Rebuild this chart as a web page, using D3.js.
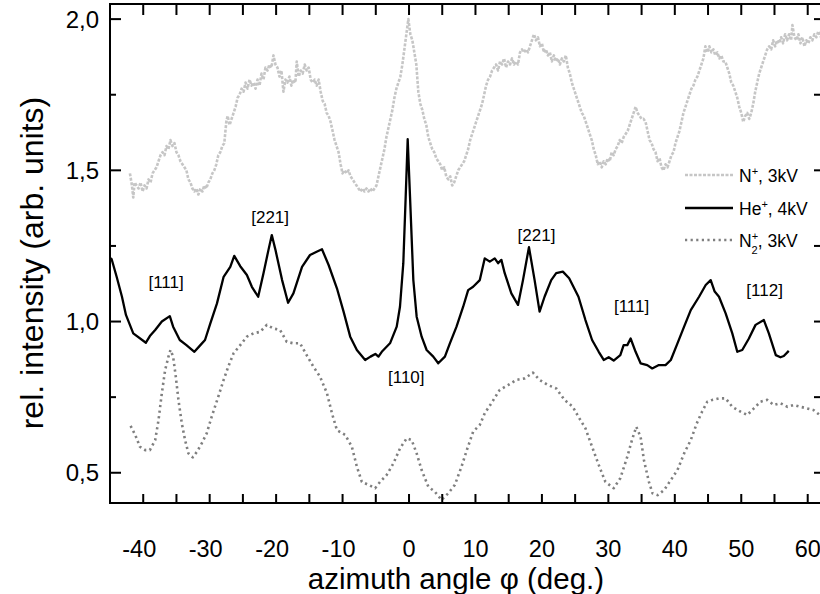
<!DOCTYPE html>
<html><head><meta charset="utf-8">
<script src="https://cdn.jsdelivr.net/npm/d3@7"></script>
<style>body{margin:0;background:#fff}svg{display:block;font-family:"Liberation Sans",Arial,sans-serif}</style>
</head><body><svg id="c" width="820" height="594"></svg>
<script>
const xTicksLabeled = [-40,-30,-20,-10,0,10,20,30,40,50,60];
const yTicksLabeled = [0.5,1.0,1.5,2.0];
const yTickText = ["0,5","1,0","1,5","2,0"];

// N+, 3kV (angle, intensity)
const nPlusData = [[-42.0,1.49],[-41.7,1.45],[-41.5,1.41],[-41.3,1.46],[-41.0,1.45],[-40.7,1.44],[-40.4,1.46],[-40.1,1.43],[-39.8,1.45],[-39.5,1.44],[-39.2,1.47],[-38.9,1.46],[-38.6,1.49],[-38.3,1.50],[-38.0,1.51],[-37.7,1.53],[-37.4,1.55],[-37.1,1.56],[-36.8,1.55],[-36.5,1.58],[-36.2,1.57],[-35.9,1.60],[-35.6,1.58],[-35.3,1.59],[-35.0,1.56],[-34.7,1.55],[-34.4,1.53],[-34.1,1.52],[-33.8,1.51],[-33.5,1.50],[-33.2,1.47],[-32.9,1.46],[-32.6,1.44],[-32.3,1.43],[-32.0,1.44],[-31.7,1.42],[-31.4,1.44],[-31.1,1.43],[-30.8,1.45],[-30.5,1.44],[-30.2,1.46],[-29.9,1.47],[-29.6,1.49],[-29.3,1.50],[-29.0,1.52],[-28.7,1.55],[-28.4,1.56],[-28.1,1.58],[-27.8,1.59],[-27.5,1.66],[-27.3,1.68],[-27.0,1.65],[-26.7,1.67],[-26.4,1.69],[-26.1,1.71],[-25.8,1.74],[-25.5,1.75],[-25.2,1.77],[-24.9,1.76],[-24.6,1.79],[-24.3,1.77],[-24.0,1.80],[-23.7,1.78],[-23.4,1.79],[-23.1,1.77],[-22.8,1.80],[-22.5,1.78],[-22.2,1.82],[-21.9,1.80],[-21.6,1.84],[-21.3,1.83],[-21.0,1.85],[-20.7,1.84],[-20.4,1.88],[-20.1,1.85],[-19.8,1.84],[-19.5,1.81],[-19.2,1.83],[-18.9,1.76],[-18.6,1.80],[-18.3,1.79],[-18.0,1.81],[-17.7,1.78],[-17.4,1.80],[-17.1,1.79],[-16.9,1.86],[-16.6,1.81],[-16.3,1.83],[-16.0,1.82],[-15.7,1.85],[-15.4,1.83],[-15.1,1.84],[-14.8,1.80],[-14.5,1.79],[-14.2,1.80],[-13.9,1.78],[-13.6,1.80],[-13.3,1.76],[-13.0,1.73],[-12.7,1.72],[-12.4,1.69],[-12.1,1.68],[-11.8,1.66],[-11.5,1.63],[-11.2,1.60],[-10.9,1.58],[-10.6,1.56],[-10.3,1.52],[-10.0,1.49],[-9.7,1.50],[-9.4,1.49],[-9.1,1.50],[-8.8,1.48],[-8.5,1.47],[-8.2,1.46],[-7.9,1.45],[-7.6,1.44],[-7.3,1.43],[-7.0,1.44],[-6.7,1.43],[-6.4,1.44],[-6.1,1.43],[-5.8,1.44],[-5.5,1.43],[-5.2,1.44],[-4.9,1.45],[-4.6,1.48],[-4.3,1.51],[-4.0,1.54],[-3.7,1.57],[-3.4,1.61],[-3.1,1.64],[-2.8,1.67],[-2.5,1.70],[-2.2,1.74],[-1.9,1.77],[-1.6,1.79],[-1.3,1.81],[-1.0,1.85],[-0.7,1.90],[-0.4,1.95],[-0.1,2.00],[0.2,1.95],[0.5,1.93],[0.8,1.89],[1.1,1.85],[1.4,1.76],[1.7,1.72],[2.0,1.70],[2.3,1.67],[2.6,1.65],[2.9,1.61],[3.2,1.59],[3.5,1.57],[3.8,1.56],[4.1,1.54],[4.4,1.53],[4.7,1.52],[5.0,1.50],[5.3,1.51],[5.6,1.48],[5.9,1.47],[6.2,1.48],[6.5,1.45],[6.8,1.46],[7.1,1.48],[7.4,1.50],[7.7,1.51],[8.0,1.52],[8.3,1.53],[8.6,1.55],[8.9,1.57],[9.2,1.60],[9.5,1.62],[9.8,1.64],[10.1,1.66],[10.4,1.68],[10.7,1.70],[11.0,1.72],[11.3,1.75],[11.6,1.78],[11.9,1.80],[12.2,1.81],[12.5,1.83],[12.8,1.84],[13.1,1.85],[13.4,1.83],[13.7,1.86],[14.0,1.85],[14.3,1.87],[14.6,1.84],[14.9,1.86],[15.2,1.85],[15.5,1.87],[15.8,1.85],[16.1,1.86],[16.4,1.85],[16.7,1.89],[17.0,1.90],[17.3,1.89],[17.6,1.90],[17.9,1.89],[18.2,1.91],[18.5,1.93],[18.8,1.95],[19.1,1.93],[19.4,1.94],[19.7,1.91],[20.0,1.92],[20.3,1.89],[20.6,1.90],[20.9,1.88],[21.2,1.89],[21.5,1.86],[21.8,1.88],[22.1,1.86],[22.4,1.87],[22.7,1.85],[23.0,1.87],[23.3,1.86],[23.6,1.88],[23.9,1.84],[24.2,1.82],[24.5,1.79],[24.8,1.77],[25.1,1.75],[25.4,1.73],[25.7,1.71],[26.0,1.69],[26.3,1.68],[26.6,1.66],[26.9,1.64],[27.2,1.62],[27.5,1.60],[27.8,1.57],[28.1,1.55],[28.4,1.52],[28.7,1.53],[29.0,1.51],[29.3,1.53],[29.6,1.52],[29.9,1.54],[30.2,1.53],[30.5,1.56],[30.8,1.55],[31.1,1.57],[31.4,1.58],[31.7,1.60],[32.0,1.59],[32.3,1.61],[32.6,1.62],[32.9,1.63],[33.2,1.65],[33.5,1.67],[33.8,1.69],[34.1,1.71],[34.4,1.69],[34.7,1.68],[35.0,1.67],[35.3,1.67],[35.6,1.66],[35.9,1.63],[36.2,1.60],[36.5,1.59],[36.8,1.57],[37.1,1.56],[37.4,1.53],[37.7,1.54],[38.0,1.51],[38.3,1.50],[38.6,1.52],[38.9,1.51],[39.2,1.53],[39.5,1.55],[39.8,1.56],[40.1,1.59],[40.4,1.61],[40.7,1.63],[41.0,1.66],[41.3,1.69],[41.6,1.71],[41.9,1.73],[42.2,1.75],[42.5,1.77],[42.8,1.78],[43.1,1.80],[43.4,1.81],[43.7,1.83],[44.0,1.85],[44.3,1.87],[44.6,1.91],[44.9,1.89],[45.2,1.91],[45.5,1.89],[45.8,1.90],[46.1,1.88],[46.4,1.89],[46.7,1.87],[47.0,1.88],[47.3,1.86],[47.6,1.86],[47.9,1.84],[48.2,1.82],[48.5,1.79],[48.8,1.78],[49.1,1.76],[49.4,1.74],[49.7,1.71],[50.0,1.69],[50.3,1.66],[50.6,1.68],[50.9,1.69],[51.2,1.67],[51.5,1.69],[51.8,1.72],[52.1,1.76],[52.4,1.79],[52.7,1.82],[53.0,1.84],[53.3,1.86],[53.6,1.88],[53.9,1.90],[54.2,1.91],[54.5,1.90],[54.8,1.93],[55.1,1.91],[55.4,1.93],[55.7,1.92],[56.0,1.94],[56.3,1.92],[56.6,1.95],[56.9,1.93],[57.2,1.95],[57.5,1.93],[57.7,1.98],[58.0,1.94],[58.3,1.93],[58.6,1.95],[58.9,1.92],[59.2,1.94],[59.5,1.91],[59.8,1.93],[60.1,1.92],[60.4,1.94],[60.7,1.93],[61.0,1.95],[61.3,1.94],[61.6,1.96],[62.0,1.94]];

// He+, 4kV
const heAngle = [-45,-44.75,-44.0,-43.2,-42.6,-41.5,-39.6,-39.0,-38.2,-37.2,-36.0,-35.5,-34.5,-33.5,-32.3,-31.4,-30.7,-29.9,-28.9,-27.9,-26.9,-26.3,-25.4,-24.4,-23.65,-22.7,-21.9,-21.15,-20.65,-20.1,-19.1,-18.2,-17.4,-16.1,-14.9,-13.9,-13.1,-12.1,-10.85,-9.85,-8.85,-7.85,-6.6,-5.8,-5.07,-4.6,-4.1,-2.86,-1.85,-1.36,-0.86,-0.5,-0.2,0.15,0.65,1.15,1.9,2.65,3.65,4.4,5.4,6.15,7.15,8.15,8.9,9.65,10.65,11.4,12.15,12.9,13.4,13.9,14.4,15.4,16.4,17.15,18.05,18.9,19.65,20.4,21.4,22.15,23.15,24.1,25.5,26.55,27.55,28.55,29.3,30.05,30.8,31.8,32.3,32.85,33.35,34.1,34.85,35.85,36.6,37.6,38.6,39.4,40.4,41.4,42.4,43.65,44.65,45.4,46.0,46.65,47.65,48.65,49.4,50.15,51.15,52.15,53.4,54.15,55.2,55.9,56.4,57.15];
const heValue = [1.21,1.206,1.148,1.082,1.022,0.961,0.930,0.952,0.972,1.000,1.018,0.983,0.939,0.922,0.900,0.922,0.939,0.994,1.060,1.148,1.181,1.217,1.183,1.154,1.115,1.082,1.160,1.237,1.286,1.237,1.137,1.062,1.093,1.181,1.220,1.231,1.239,1.187,1.110,1.033,0.950,0.906,0.873,0.884,0.893,0.884,0.900,0.928,0.983,1.049,1.193,1.413,1.603,1.413,1.137,1.016,0.950,0.906,0.884,0.862,0.884,0.928,0.983,1.049,1.104,1.115,1.137,1.209,1.198,1.209,1.193,1.204,1.160,1.093,1.055,1.137,1.246,1.137,1.033,1.082,1.137,1.160,1.165,1.143,1.082,1.005,0.939,0.900,0.873,0.882,0.871,0.889,0.922,0.922,0.944,0.900,0.862,0.856,0.845,0.856,0.856,0.873,0.928,0.983,1.038,1.082,1.121,1.137,1.099,1.082,1.027,0.961,0.900,0.906,0.944,0.989,1.005,0.961,0.889,0.882,0.886,0.903];

// N2+, 3kV
const n2Angle = [-41.9,-41.2,-40.5,-39.7,-39.0,-38.2,-37.7,-37.2,-36.7,-36.2,-35.9,-35.5,-35.1,-34.7,-34.2,-33.7,-33.2,-32.55,-31.9,-31.2,-30.45,-29.7,-28.7,-27.9,-27.2,-26.4,-25.4,-24.4,-23.4,-22.4,-21.4,-20.4,-19.4,-18.4,-17.4,-16.4,-15.4,-14.4,-13.4,-12.35,-11.6,-10.85,-9.6,-8.6,-7.85,-7.1,-6.1,-5.1,-4.35,-3.35,-2.35,-1.35,-0.35,0.4,1.15,1.9,2.9,3.9,4.9,5.9,6.9,7.9,8.7,9.65,10.65,11.4,12.4,13.65,14.9,16.15,17.4,18.65,19.65,20.9,22.15,23.4,24.65,25.5,26.55,27.55,28.55,29.55,30.8,31.8,32.85,33.55,34.2,34.85,35.35,36.1,36.65,37.4,38.4,39.4,40.4,41.4,42.4,43.3,44.1,44.9,45.65,46.65,47.65,48.65,49.9,50.9,51.9,52.9,53.9,54.9,55.9,56.95,57.9,58.9,59.9,60.9,61.8];
const n2Value = [0.655,0.625,0.586,0.575,0.575,0.608,0.674,0.763,0.840,0.884,0.906,0.884,0.818,0.741,0.664,0.608,0.564,0.551,0.570,0.597,0.630,0.685,0.752,0.807,0.851,0.895,0.922,0.950,0.961,0.966,0.989,0.977,0.972,0.933,0.928,0.928,0.889,0.851,0.818,0.763,0.697,0.641,0.625,0.586,0.520,0.470,0.460,0.449,0.470,0.493,0.531,0.581,0.614,0.608,0.564,0.509,0.454,0.437,0.410,0.432,0.460,0.520,0.575,0.636,0.658,0.697,0.730,0.774,0.790,0.807,0.812,0.831,0.807,0.790,0.779,0.741,0.718,0.685,0.647,0.586,0.526,0.470,0.449,0.482,0.553,0.608,0.652,0.619,0.542,0.470,0.432,0.426,0.443,0.476,0.509,0.564,0.608,0.663,0.702,0.735,0.741,0.746,0.746,0.718,0.702,0.691,0.713,0.735,0.741,0.724,0.730,0.718,0.724,0.718,0.713,0.707,0.691];

const annotLabels = ["[111]","[221]","[110]","[221]","[111]","[112]"];
const annotAngles = [-36.56,-20.9,-0.41,19.18,33.49,53.52];
const annotValues = [1.131,1.347,0.818,1.286,1.050,1.104];

const legendNames = [["N","+","",", 3kV"],["He","+","",", 4kV"],["N","+","2",", 3kV"]];

const svg = d3.select("#c");
const L=110, R=821, T=4, B=503;
const x = d3.scaleLinear().domain([-45,62]).range([L,R]);
const y = d3.scaleLinear().domain([0.4,2.05]).range([B,T]);

const styles = [
  {color:"#c6c6c6", width:2.6, dash:"3,1.5"},
  {color:"#000", width:2.3, dash:null},
  {color:"#7f7f7f", width:2.6, dash:"2.2,3.4"}
];
const series = [
  nPlusData,
  d3.zip(heAngle, heValue),
  d3.zip(n2Angle, n2Value)
];
const line = d3.line().x(d=>x(d[0])).y(d=>y(d[1]));
series.forEach((s,i)=>{
  svg.append("path").attr("d", line(s)).attr("fill","none")
    .attr("stroke", styles[i].color).attr("stroke-width", styles[i].width)
    .attr("stroke-dasharray", styles[i].dash).attr("stroke-linejoin","round");
});

// Tick marks (inward) as filled bars positioned by the scales
const allX = d3.range(-45,62.01,5);
const yMinor=[0.75,1.25,1.75];
const tk = svg.append("g");
tk.selectAll("rect.xb").data(allX).join("rect").attr("class","xb")
  .attr("x",d=>x(d)-1).attr("y",B-9).attr("width",2).attr("height",9).attr("fill","#000");
tk.selectAll("rect.xt").data(allX).join("rect").attr("class","xt")
  .attr("x",d=>x(d)-1).attr("y",T).attr("width",2).attr("height",11).attr("fill","#000");
tk.selectAll("rect.yl").data(yTicksLabeled).join("rect").attr("class","yl")
  .attr("x",L).attr("y",d=>y(d)-1).attr("width",11).attr("height",2).attr("fill","#000");
tk.selectAll("rect.ym").data(yMinor).join("rect").attr("class","ym")
  .attr("x",L).attr("y",d=>y(d)-1).attr("width",6).attr("height",2).attr("fill","#000");
tk.selectAll("rect.yr").data(yTicksLabeled.concat(yMinor)).join("rect").attr("class","yr")
  .attr("x",R-7).attr("y",d=>y(d)-1).attr("width",7).attr("height",2).attr("fill","#000");
svg.append("rect").attr("x",L).attr("y",T).attr("width",R-L).attr("height",B-T)
  .attr("fill","none").attr("stroke","#000").attr("stroke-width",2);

// tick labels
svg.append("g").selectAll("text").data(xTicksLabeled).join("text")
  .attr("x",d=>x(d) - (d<0?4:0)).attr("y",557).attr("text-anchor","middle")
  .attr("font-size",23.5).text(d=>d);
svg.append("g").selectAll("text").data(yTicksLabeled).join("text")
  .attr("x",99).attr("y",d=>y(d)+8.5).attr("text-anchor","end")
  .attr("font-size",24).text((d,i)=>yTickText[i]);

// titles
svg.append("text").attr("x",456).attr("y",589).attr("text-anchor","middle")
  .attr("font-size",29.5).text("azimuth angle φ (deg.)");
svg.append("text").attr("transform",`translate(43,${263}) rotate(-90)`).attr("text-anchor","middle")
  .attr("font-size",32).text("rel. intensity (arb. units)");

// annotations
svg.append("g").selectAll("text").data(annotLabels).join("text")
  .attr("x",(d,i)=>x(annotAngles[i])).attr("y",(d,i)=>y(annotValues[i])+6)
  .attr("text-anchor","middle").attr("font-size",17).text(d=>d);

// legend
const lg = svg.append("g");
const legY=[175,208,240];
legendNames.forEach((nm,i)=>{
  lg.append("line").attr("x1",685).attr("x2",733).attr("y1",legY[i]).attr("y2",legY[i])
    .attr("stroke",styles[i].color).attr("stroke-width",styles[i].width).attr("stroke-dasharray",styles[i].dash);
  const t = lg.append("text").attr("x",739).attr("y",legY[i]+6.5).attr("font-size",17.5);
  t.append("tspan").text(nm[0]);
  t.append("tspan").attr("font-size",11).attr("dy",-7).text(nm[1]);
  if(nm[2]) { t.append("tspan").attr("font-size",11).attr("dx",-6.5).attr("dy",14).text(nm[2]); t.append("tspan").attr("dy",-7).text(nm[3]); }
  else t.append("tspan").attr("dy",7).text(nm[3]);
});
</script></body></html>
